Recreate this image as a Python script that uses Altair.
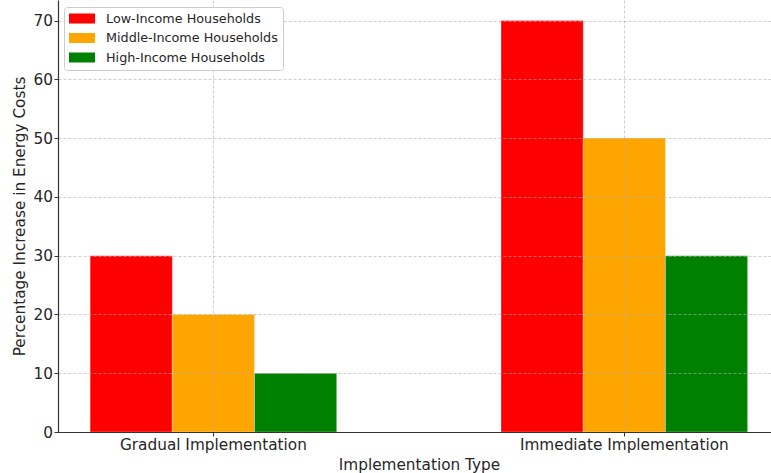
import altair as alt
import pandas as pd

categories = ["Gradual Implementation", "Immediate Implementation"]
series = ["Low-Income Households", "Middle-Income Households", "High-Income Households"]
low_income = [30, 70]
middle_income = [20, 50]
high_income = [10, 30]
colors = ["#ff0000", "#ffa500", "#008000"]
y_ticks = [0, 10, 20, 30, 40, 50, 60, 70]

rows = []
for s, vals in zip(series, [low_income, middle_income, high_income]):
    for c, v in zip(categories, vals):
        rows.append({"Implementation Type": c, "Group": s, "Value": v})
df = pd.DataFrame(rows)

FONT = "DejaVu Sans"
TXT = "#262626"

chart = alt.Chart(df).mark_bar(stroke="white", strokeWidth=0.5, strokeOpacity=0.6).encode(
    x=alt.X(
        "Implementation Type:N",
        sort=categories,
        scale=alt.Scale(paddingInner=0.286, paddingOuter=0.0106, align=1, round=False),
        axis=alt.Axis(
            title="Implementation Type",
            labelAngle=0, labelLimit=0,
            labelFont=FONT, labelFontSize=15.3, labelColor=TXT,
            labelBaseline="alphabetic", labelPadding=13,
            titleFont=FONT, titleFontSize=15.3, titleFontWeight="normal", titleColor=TXT,
            titleBaseline="alphabetic", titleX=361, titleY=37,
            tickSize=4, tickColor="#333333", tickWidth=1,
            domainColor="#333333", domainWidth=1.2,
            grid=True, gridDash=[3, 2], gridColor="#b0b0b0", gridOpacity=0.6, gridWidth=1,
            bandPosition=0.5, zindex=1,
        ),
    ),
    xOffset=alt.XOffset("Group:N", sort=series,
                        scale=alt.Scale(paddingInner=0, paddingOuter=0.2847, round=False)),
    y=alt.Y(
        "Value:Q",
        scale=alt.Scale(domain=[0, 73.5], nice=False, zero=True),
        axis=alt.Axis(
            title="Percentage Increase in Energy Costs",
            values=y_ticks,
            labelFont=FONT, labelFontSize=15.3, labelColor=TXT, labelPadding=1.5,
            titleFont=FONT, titleFontSize=15.3, titleFontWeight="normal", titleColor=TXT,
            titleBaseline="alphabetic", titleX=-34, titleY=216, titleAngle=270,
            tickSize=4, tickColor="#333333", tickWidth=1,
            domainColor="#333333", domainWidth=1.2,
            grid=True, gridDash=[3, 2], gridColor="#b0b0b0", gridOpacity=0.6, gridWidth=1,
            zindex=1,
        ),
    ),
    color=alt.Color(
        "Group:N",
        sort=series,
        scale=alt.Scale(domain=series, range=colors),
        legend=alt.Legend(
            title=None,
            orient="none", legendX=6, legendY=7,
            symbolType="M-1,-0.77H3V0.77H-1Z", symbolSize=169,
            symbolStrokeWidth=0,
            labelFont=FONT, labelFontSize=12.75, labelColor=TXT, labelOffset=24,
            labelLimit=0,
            rowPadding=5.5,
            padding=5,
            fillColor="white", strokeColor="#cccccc", cornerRadius=3,
            zindex=2,
        ),
    ),
).properties(
    width=713, height=432,
    autosize=alt.AutoSizeParams(type="none"),
    padding={"left": 58, "top": 0, "right": 0, "bottom": 41},
).configure_view(strokeWidth=0)

chart.save("out.html", embed_options={"renderer": "svg", "actions": False})
